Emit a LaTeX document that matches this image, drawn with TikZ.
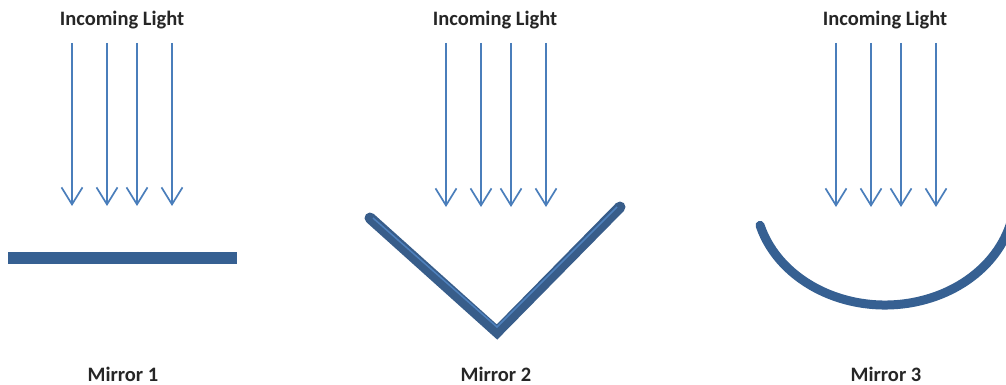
\documentclass[tikz,border=0pt]{standalone}
\usepackage{fontspec}
\setmainfont{Carlito}
\usetikzlibrary{arrows.meta,calc}
\definecolor{raycol}{RGB}{74,126,187}
\definecolor{mirdark}{RGB}{56,93,138}
\definecolor{mirmid}{RGB}{54,96,146}
\definecolor{mirlight}{RGB}{79,129,189}
\tikzset{
  ray/.style={draw=raycol,line width=1.7pt,-{Straight Barb[length=17pt,width=21pt,line width=1.7pt]}},
  lbl/.style={font=\fontsize{20.5}{23}\selectfont\bfseries,text=black!85,inner sep=0pt},
}
\begin{document}
\begin{tikzpicture}[x=1pt,y=-1pt]
\useasboundingbox (0,0) rectangle (1006,385);
\clip (0,0) rectangle (1006,385);
% titles
\node[lbl] (t1) at (122,20) {Incoming Light};
\node[lbl] (t2) at (495,20) {Incoming Light};
\node[lbl] (t3) at (885,20) {Incoming Light};
% rays
\foreach \i/\x in {1/72,2/107,3/137,4/172}{
  \coordinate (a\i s) at (\x,43); \coordinate (a\i e) at (\x,206);
  \draw[ray] (a\i s) -- (a\i e);}
\foreach \i/\x in {1/446,2/481,3/511,4/546}{
  \coordinate (b\i s) at (\x,43); \coordinate (b\i e) at (\x,207);
  \draw[ray] (b\i s) -- (b\i e);}
\foreach \i/\x in {1/836,2/871,3/901,4/936}{
  \coordinate (c\i s) at (\x,43); \coordinate (c\i e) at (\x,207);
  \draw[ray] (c\i s) -- (c\i e);}
% mirror 1
\fill[mirmid] (8,252) rectangle (237,264);
% mirror 2
\coordinate (m2l) at (370,218);
\coordinate (m2v) at (497,332);
\coordinate (m2r) at (620,207);
\draw[mirdark,line width=11pt,line cap=round,line join=miter] (m2l) -- (m2v) -- (m2r);
\draw[mirlight,line width=1.5pt] ($(m2l)+(3,0)$) -- (497,327) -- ($(m2r)+(-3,0)$);
% mirror 3
\draw[mirmid,line width=9pt,line cap=round] (885,195) ++(164:130 and 110) arc[start angle=164,end angle=0,x radius=130,y radius=110];
% captions
\node[lbl] (n1) at (123,374) {Mirror 1};
\node[lbl] (n2) at (496,374) {Mirror 2};
\node[lbl] (n3) at (886,374) {Mirror 3};
\end{tikzpicture}
\end{document}
